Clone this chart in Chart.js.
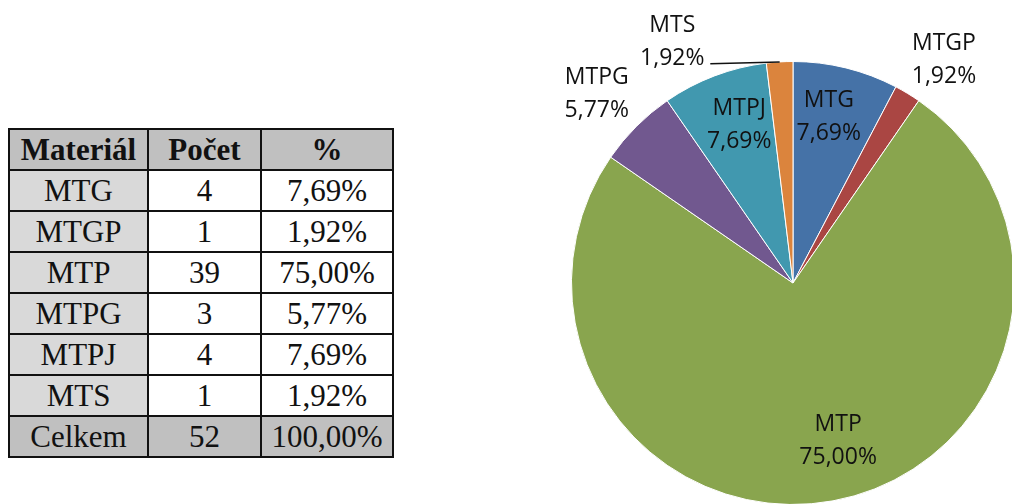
<!DOCTYPE html>
<html lang="cs">
<head>
<meta charset="utf-8">
<title>Materiál</title>
<script src="https://cdn.jsdelivr.net/npm/chart.js@4/dist/chart.umd.min.js"></script>
<style>
    html, body {
        margin: 0;
        padding: 0;
        width: 1012px;
        height: 504px;
        overflow: hidden;
        background: #fff;
    }
    #tab {
        position: absolute;
        left: 8px;
        top: 128px;
        border-collapse: collapse;
        font-family: "Liberation Serif", "Times New Roman", serif;
        font-size: 31px;
        color: #111;
    }
    #tab td, #tab th {
        border: 2px solid #111;
        text-align: center;
        padding: 0;
        height: 39px;
        line-height: 39px;
    }
    #tab th { background: #c0c0c0; font-weight: bold; }
    #tab td.cat { background: #d9d9d9; }
    #tab tr.sum td { background: #c0c0c0; }
    #pie {
        position: absolute;
        left: 540px;
        top: 0;
    }
</style>
</head>
<body>
<table id="tab"></table>
<canvas id="pie" width="480" height="510"></canvas>

<script>
// --- Data ---
const categories = ["MTG", "MTGP", "MTP", "MTPG", "MTPJ", "MTS"];
const counts = [4, 1, 39, 3, 4, 1];
const headers = ["Materiál", "Počet", "%"];
const totalLabel = "Celkem";
const colors = ["#4572A7", "#AA4643", "#89A54E", "#71588F", "#4198AF", "#DB843D"];

// label placement: radial factor of the slice mid angle plus small nudges
const labelPos = [
    { f: 0.77, dx: -5, dy: -2 },
    { f: 1.23, dx: 10, dy: 8 },
    { f: 0.73, dx: 16, dy: -3 },
    { f: 1.24, dx: -2, dy: 3 },
    { f: 0.76, dx: 6, dy: -3 },
    { f: 1.10, dx: -106, dy: 0, leader: true }
];

const total = counts.reduce((a, b) => a + b, 0);

function pct(v) {
    return (v / total * 100).toFixed(2).replace(".", ",") + "%";
}

// --- Table ---
const tab = document.getElementById("tab");
const colW = [137, 111, 130];

let html = "<tr>" + headers.map((h, i) => '<th style="width:' + colW[i] + 'px">' + h + "</th>").join("") + "</tr>";
categories.forEach((c, i) => {
    html += '<tr><td class="cat">' + c + "</td><td>" + counts[i] + "</td><td>" + pct(counts[i]) + "</td></tr>";
});
html += '<tr class="sum"><td>' + totalLabel + "</td><td>" + total + "</td><td>" + pct(total) + "</td></tr>";
tab.innerHTML = html;

// --- Slice labels ---
const sliceLabels = {
    id: "sliceLabels",
    afterDatasetsDraw(chart) {
        const ctx = chart.ctx;
        const arcs = chart.getDatasetMeta(0).data;
        ctx.save();
        ctx.font = '23px "Open Sans", sans-serif';
        ctx.fillStyle = "#111";
        ctx.textAlign = "center";
        ctx.textBaseline = "alphabetic";

        arcs.forEach((arc, i) => {
            const p = arc.getProps(["x", "y", "startAngle", "endAngle", "outerRadius"], true);
            const mid = (p.startAngle + p.endAngle) / 2;
            const pos = labelPos[i];
            const r = p.outerRadius * pos.f;
            const cx = p.x + Math.cos(mid) * r + pos.dx;
            const cy = p.y + Math.sin(mid) * r + pos.dy;

            ctx.fillText(categories[i], cx, cy - 8);
            ctx.fillText(pct(counts[i]), cx, cy + 25);

            if (pos.leader) {
                ctx.beginPath();
                ctx.strokeStyle = "#111";
                ctx.lineWidth = 1.5;
                ctx.moveTo(cx + 38, cy + 24);
                ctx.lineTo(p.x + Math.cos(mid) * p.outerRadius, p.y + Math.sin(mid) * p.outerRadius);
                ctx.stroke();
            }
        });
        ctx.restore();
    }
};

// --- Chart ---
new Chart(document.getElementById("pie").getContext("2d"), {
    type: "pie",
    data: {
        labels: categories,
        datasets: [{
            data: counts,
            backgroundColor: colors,
            borderColor: "#ffffff",
            borderWidth: 1
        }]
    },
    options: {
        responsive: false,
        animation: false,
        layout: { padding: { left: 31, right: 5, top: 61, bottom: 5 } },
        plugins: {
            legend: { display: false },
            tooltip: { enabled: false }
        }
    },
    plugins: [sliceLabels]
});
</script>
</body>
</html>
